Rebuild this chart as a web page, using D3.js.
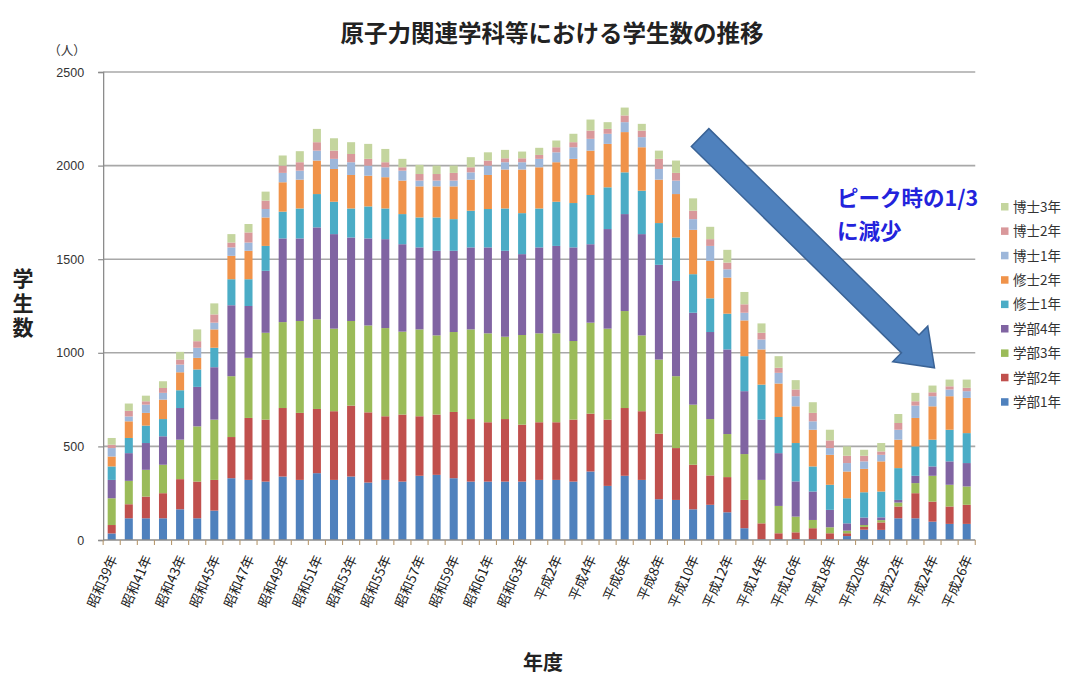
<!DOCTYPE html>
<html lang="ja">
<head>
<meta charset="utf-8">
<script src="https://cdn.jsdelivr.net/npm/d3@7/dist/d3.min.js"></script>
<style>
  html, body { margin: 0; padding: 0; background: #fff; }
  svg { display: block; }
</style>
</head>
<body>
<svg id="chart" width="1071" height="675"></svg>
<script>
// 年度（カテゴリ）
const years = [
  "昭和39年","昭和40年","昭和41年","昭和42年","昭和43年","昭和44年","昭和45年","昭和46年",
  "昭和47年","昭和48年","昭和49年","昭和50年","昭和51年","昭和52年","昭和53年","昭和54年",
  "昭和55年","昭和56年","昭和57年","昭和58年","昭和59年","昭和60年","昭和61年","昭和62年",
  "昭和63年","平成元年","平成2年","平成3年","平成4年","平成5年","平成6年","平成7年",
  "平成8年","平成9年","平成10年","平成11年","平成12年","平成13年","平成14年","平成15年",
  "平成16年","平成17年","平成18年","平成19年","平成20年","平成21年","平成22年","平成23年",
  "平成24年","平成25年","平成26年"
];

// 学年別の学生数（人）
const gakubu1 = [35,116,116,116,164,116,157,330,321,312,339,321,357,321,339,307,321,312,343,348,330,312,312,312,312,321,321,312,366,289,343,321,218,214,164,188,148,63,4,5,5,5,5,21,55,54,116,116,98,86,86];
const gakubu2 = [45,75,116,134,161,196,164,220,331,331,366,358,343,367,379,375,340,358,318,322,354,334,317,334,304,308,308,331,309,354,362,367,350,277,238,157,188,151,85,31,36,58,31,15,15,40,63,134,107,93,102];
const gakubu3 = [143,125,143,152,211,295,322,325,321,464,459,491,479,441,452,464,471,443,464,423,427,479,475,440,479,475,475,420,486,486,518,405,396,384,321,301,230,245,232,146,84,44,32,14,10,12,21,54,138,116,98];
const gakubu4 = [98,148,143,152,169,211,280,379,277,331,447,441,491,505,446,465,475,467,438,452,434,438,459,459,432,459,467,500,419,532,518,541,506,509,491,465,452,336,322,282,188,152,93,39,40,15,14,39,50,125,125];
const shushi1 = [72,81,93,92,95,93,104,139,143,133,143,160,178,173,155,171,164,161,160,178,169,196,205,226,219,208,236,237,263,223,223,232,223,232,206,180,191,187,187,193,205,134,134,134,135,138,170,157,143,169,160];
const shushi2 = [53,89,68,104,96,62,98,125,152,152,157,154,179,175,179,164,167,179,166,166,175,166,182,208,233,220,211,236,237,232,215,232,232,232,237,200,193,191,188,179,196,196,160,143,125,161,152,152,178,179,188];
const hakushi1 = [45,26,44,36,41,54,36,45,44,45,50,48,53,54,68,54,53,53,31,31,31,39,50,39,39,45,53,62,63,54,53,54,57,72,57,80,44,41,53,57,54,45,36,45,40,35,53,66,54,36,36];
const hakushi2 = [18,30,18,26,27,35,44,26,54,45,39,45,45,44,44,36,27,18,35,35,41,27,27,21,21,21,27,27,44,26,36,35,54,41,45,36,36,45,36,27,36,45,41,39,30,18,36,23,21,17,18];
const hakushi3 = [36,39,30,36,41,63,59,45,45,48,54,59,71,66,63,80,71,45,49,45,39,54,44,45,36,38,36,45,59,36,42,36,44,66,66,66,68,66,50,62,50,57,57,50,32,45,48,45,36,36,44];

// 系列名（積み上げ順：下から）と色
const seriesNames = ["学部1年","学部2年","学部3年","学部4年","修士1年","修士2年","博士1年","博士2年","博士3年"];
const seriesValues = [gakubu1, gakubu2, gakubu3, gakubu4, shushi1, shushi2, hakushi1, hakushi2, hakushi3];
const seriesColors = ["#4F81BD","#C0504D","#9BBB59","#8064A2","#4BACC6","#F0934A","#9DB7DA","#D9989B","#C4D59E"];

// 目盛
const yTicks = [0, 500, 1000, 1500, 2000, 2500];

const svg = d3.select("#chart");
const W = 1071, H = 675;
svg.append("rect").attr("width", W).attr("height", H).attr("fill", "#fff");

const CJK = "'Noto Sans CJK JP', 'Noto Sans', sans-serif";
const plotLeft = 103.15, plotRight = 975.25, plotTop = 72, plotBottom = 540;

const x = d3.scaleBand()
  .domain(years)
  .range([plotLeft, plotRight])
  .paddingInner(0.53)
  .paddingOuter(0.265);

const y = d3.scaleLinear().domain([0, 2500]).range([plotBottom, plotTop]);

// 積み上げ用のテーブル
const table = years.map((yr, i) => {
  const row = { year: yr };
  seriesNames.forEach((s, k) => { row[s] = seriesValues[k][i]; });
  return row;
});
const stacked = d3.stack().keys(seriesNames)(table);

// 目盛線
const grid = svg.append("g");
grid.selectAll("line")
  .data(yTicks.filter(t => t > 0))
  .join("line")
  .attr("x1", plotLeft).attr("x2", plotRight)
  .attr("y1", d => y(d)).attr("y2", d => y(d))
  .attr("stroke", "#A8A8A8").attr("stroke-width", 1.6);

// 棒
const barsG = svg.append("g");
stacked.forEach((layer, k) => {
  barsG.append("g")
    .attr("fill", seriesColors[k])
    .selectAll("rect")
    .data(layer)
    .join("rect")
    .attr("x", d => x(d.data.year))
    .attr("width", x.bandwidth())
    .attr("y", d => y(d[1]))
    .attr("height", d => Math.max(0, y(d[0]) - y(d[1])));
});

// 縦軸
const yAxis = d3.axisLeft(y).tickValues(yTicks).tickSize(5).tickPadding(14).tickFormat(d3.format("d"));
const yAxisG = svg.append("g").attr("transform", `translate(${plotLeft},0)`).call(yAxis);
yAxisG.select(".domain").attr("stroke", "#8C8C8C").attr("stroke-width", 1.3);
yAxisG.selectAll(".tick line").attr("stroke", "#8C8C8C").attr("stroke-width", 1.2);
yAxisG.selectAll(".tick text")
  .attr("font-family", "'Liberation Sans', Arial, sans-serif")
  .attr("font-size", 12.5)
  .attr("fill", "#333");

// 横軸（区切り目盛とラベル）
const xAxisG = svg.append("g");
xAxisG.append("line")
  .attr("x1", plotLeft).attr("x2", plotRight)
  .attr("y1", plotBottom).attr("y2", plotBottom)
  .attr("stroke", "#8C8C8C").attr("stroke-width", 1.3);
const step = x.step();
const boundaries = years.map(yr => x(yr) - step * x.paddingInner() / 2).concat([plotRight]);
xAxisG.selectAll("line.sep")
  .data(boundaries)
  .join("line")
  .attr("class", "sep")
  .attr("x1", d => d).attr("x2", d => d)
  .attr("y1", plotBottom).attr("y2", plotBottom + 5)
  .attr("stroke", "#B89A70").attr("stroke-width", 1.1);

xAxisG.selectAll("text")
  .data(years.filter((d, i) => i % 2 === 0))
  .join("text")
  .attr("transform", d => {
    const cx = x(d) + x.bandwidth() / 2 + 2;
    return `translate(${cx},556) rotate(-66)`;
  })
  .attr("text-anchor", "end")
  .attr("dy", "0.35em")
  .attr("font-family", CJK)
  .attr("font-size", 13.5)
  .attr("fill", "#222")
  .text(d => d);

// タイトル
svg.append("text")
  .attr("x", 552).attr("y", 42)
  .attr("text-anchor", "middle")
  .attr("font-family", CJK)
  .attr("font-weight", 700)
  .attr("font-size", 23.5)
  .attr("fill", "#222")
  .text("原子力関連学科等における学生数の推移");

// 単位
svg.append("text")
  .attr("x", 67).attr("y", 55)
  .attr("text-anchor", "middle")
  .attr("font-family", CJK)
  .attr("font-size", 12.5)
  .attr("fill", "#333")
  .text("（人）");

// 縦軸タイトル（縦書き）
svg.append("text")
  .attr("x", 23).attr("y", 268)
  .style("writing-mode", "vertical-rl")
  .style("text-orientation", "upright")
  .style("letter-spacing", "3.5px")
  .attr("font-family", CJK)
  .attr("font-weight", 700)
  .attr("font-size", 21)
  .attr("fill", "#222")
  .text("学生数");

// 横軸タイトル
svg.append("text")
  .attr("x", 543).attr("y", 670)
  .attr("text-anchor", "middle")
  .attr("font-family", CJK)
  .attr("font-weight", 700)
  .attr("font-size", 20)
  .attr("fill", "#222")
  .text("年度");

// 凡例（上から博士3年）
const legendOrder = seriesNames.map((s, k) => ({ name: s, color: seriesColors[k] })).reverse();
const legend = svg.append("g");
const lg = legend.selectAll("g")
  .data(legendOrder)
  .join("g")
  .attr("transform", (d, i) => `translate(1001,${207 + i * 24.4})`);
lg.append("rect")
  .attr("x", 0).attr("y", -4).attr("width", 7.5).attr("height", 7.5)
  .attr("fill", d => d.color);
lg.append("text")
  .attr("x", 12).attr("dy", "0.36em")
  .attr("font-family", CJK)
  .attr("font-size", 13.5)
  .attr("fill", "#333")
  .text(d => d.name);

// 減少を示す矢印
const ax0 = x("平成10年") + x.bandwidth() / 2 + 7, ay0 = y(2150);
const ax1 = x("平成24年") + x.bandwidth() / 2 + 2, ay1 = y(920);
const len = Math.hypot(ax1 - ax0, ay1 - ay0);
const ang = Math.atan2(ay1 - ay0, ax1 - ax0) * 180 / Math.PI;
const shaftHalf = 12.5, headHalf = 25, headLen = 34;
const arrowPath = d3.path();
arrowPath.moveTo(0, -shaftHalf);
arrowPath.lineTo(len - headLen, -shaftHalf);
arrowPath.lineTo(len - headLen, -headHalf);
arrowPath.lineTo(len, 0);
arrowPath.lineTo(len - headLen, headHalf);
arrowPath.lineTo(len - headLen, shaftHalf);
arrowPath.lineTo(0, shaftHalf);
arrowPath.closePath();
svg.append("path")
  .attr("d", arrowPath.toString())
  .attr("transform", `translate(${ax0},${ay0}) rotate(${ang})`)
  .attr("fill", "#4F81BD")
  .attr("stroke", "#3A6396")
  .attr("stroke-width", 1.5)
  .attr("stroke-linejoin", "miter");

// 注記
const note = svg.append("g")
  .attr("font-family", CJK)
  .attr("font-weight", 700)
  .attr("font-size", 21.5)
  .attr("fill", "#2323DC");
note.append("text").attr("x", 837).attr("y", 206).text("ピーク時の1/3");
note.append("text").attr("x", 837).attr("y", 239).text("に減少");
</script>
</body>
</html>
